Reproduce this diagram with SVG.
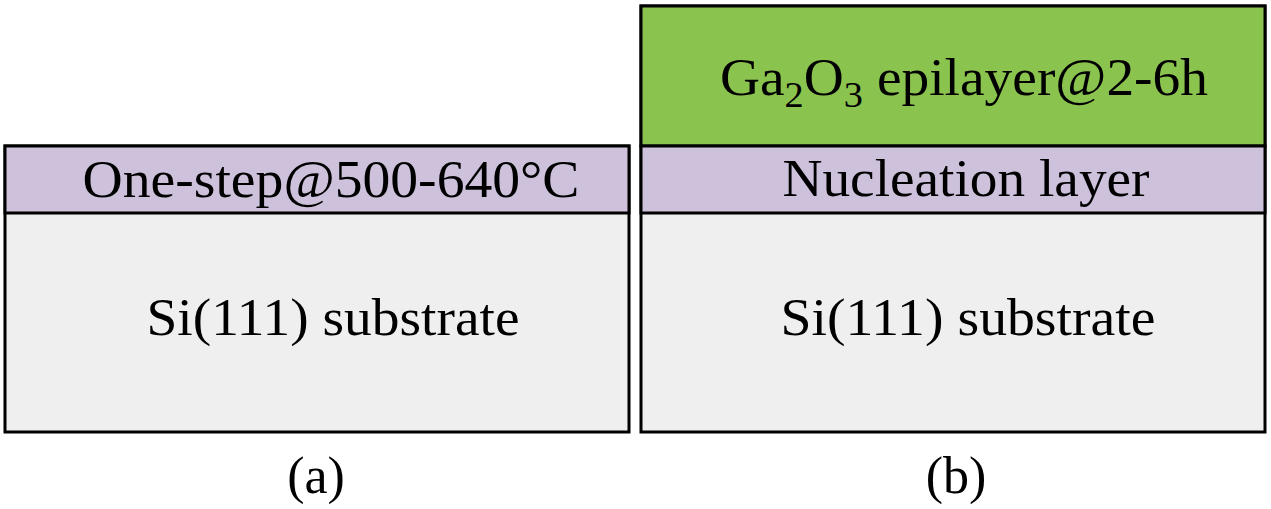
<svg xmlns="http://www.w3.org/2000/svg" width="1271" height="509" viewBox="0 0 1271 509">
<style>
.box{stroke:#000;stroke-width:3}
.sub{fill:#efefef}
.nuc{fill:#cdc1db}
.epi{fill:#8bc34f}
text{font-family:"Liberation Serif","Times New Roman",serif;fill:#000;font-size:52px}
</style>
<rect width="1271" height="509" fill="#fff"/>
<g id="panel-a">
<rect class="box sub" x="5" y="146" width="624" height="286"/>
<rect class="box nuc" x="5" y="146" width="624" height="67"/>
<text x="331" y="197" text-anchor="middle" textLength="497" lengthAdjust="spacingAndGlyphs">One-step@500-640°C</text>
<text x="333" y="335" text-anchor="middle" textLength="373" lengthAdjust="spacingAndGlyphs">Si(111) substrate</text>
</g>
<g id="panel-b">
<rect class="box sub" x="641" y="6" width="624" height="426"/>
<rect class="box epi" x="641" y="6" width="624" height="140"/>
<rect class="box nuc" x="641" y="146" width="624" height="67"/>
<text x="720" y="95" textLength="488" lengthAdjust="spacingAndGlyphs">Ga<tspan font-size="36" dy="12">2</tspan><tspan dy="-12">O</tspan><tspan font-size="36" dy="12">3</tspan><tspan dy="-12"> epilayer@2-6h</tspan></text>
<text x="966" y="196" text-anchor="middle" textLength="367" lengthAdjust="spacingAndGlyphs">Nucleation layer</text>
<text x="968" y="335" text-anchor="middle" textLength="375" lengthAdjust="spacingAndGlyphs">Si(111) substrate</text>
</g>
<g id="labels">
<text x="316" y="493" text-anchor="middle">(a)</text>
<text x="956" y="493" text-anchor="middle">(b)</text>
</g>
</svg>
